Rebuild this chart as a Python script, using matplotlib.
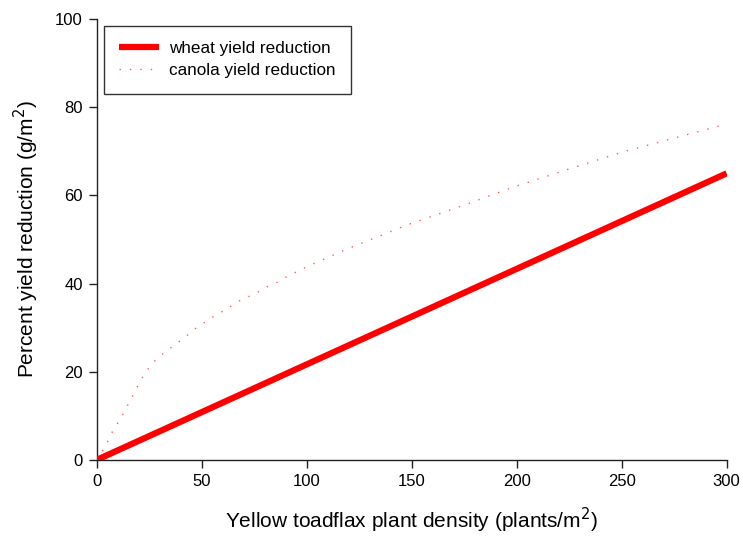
import matplotlib
matplotlib.use("Agg")
import matplotlib.pyplot as plt

plt.rcParams['font.family'] = ['Liberation Sans', 'DejaVu Sans']

# Data
wheat_x = [0, 300]
wheat_y = [0, 65]

canola_x = [0, 3.1, 5.5, 7.9, 11.1, 13.5, 16.2, 18.7, 21.4, 24.6, 28.1, 33, 37.8,
            42.5, 47.3, 52.4, 57.1, 61.9, 66.7, 71.7, 76.5, 81.2, 86.5, 90.6,
            100, 120, 149, 175, 198, 225, 251.6, 275, 300]
canola_y = [0, 2.3, 4.4, 6.8, 9.1, 11.3, 13.6, 16.0, 18.4, 20.7, 22.7, 24.6, 26.3,
            28.0, 29.9, 31.5, 33.0, 34.2, 35.8, 36.9, 38.0, 39.3, 40.4, 41.6,
            43.8, 48.0, 53.5, 57.8, 61.8, 66.0, 70.0, 73.0, 76.2]

x_ticks = [0, 50, 100, 150, 200, 250, 300]
y_ticks = [0, 20, 40, 60, 80, 100]

fig = plt.figure(figsize=(7.43, 5.37), dpi=100)
ax = fig.add_axes([0.130, 0.1434, 0.848, 0.8212])

ax.plot(canola_x, canola_y, color='#ff5a5a', lw=1.0, linestyle=(0, (1, 6.5)),
        label='canola yield reduction', zorder=2)
ax.plot(wheat_x, wheat_y, color='#ff0000', lw=4.5, solid_capstyle='butt',
        label='wheat yield reduction', zorder=3)

ax.set_xlim(0, 300)
ax.set_ylim(0, 100)
ax.set_xticks(x_ticks)
ax.set_yticks(y_ticks)
for s in ['top', 'right']:
    ax.spines[s].set_visible(False)
for s in ['left', 'bottom']:
    ax.spines[s].set_color('#222222')
    ax.spines[s].set_linewidth(1.0)
ax.tick_params(direction='out', length=6, width=1, colors='#222222',
               labelsize=12, labelcolor='black', pad=4)

ax.set_xlabel('Yellow toadflax plant density (plants/m$^2$)', fontsize=15, labelpad=12)
ax.set_ylabel('Percent yield reduction (g/m$^2$)', fontsize=15, labelpad=10)

handles, labels = ax.get_legend_handles_labels()
leg = ax.legend(handles[::-1], labels[::-1], loc='upper left',
                bbox_to_anchor=(0.011, 0.985), fontsize=12.3, frameon=True,
                fancybox=False, edgecolor='black', handlelength=2.3,
                borderpad=0.92, labelspacing=0.38, handletextpad=0.6,
                borderaxespad=0)
leg.get_frame().set_linewidth(1.0)

fig.savefig('out.png', dpi=100)
